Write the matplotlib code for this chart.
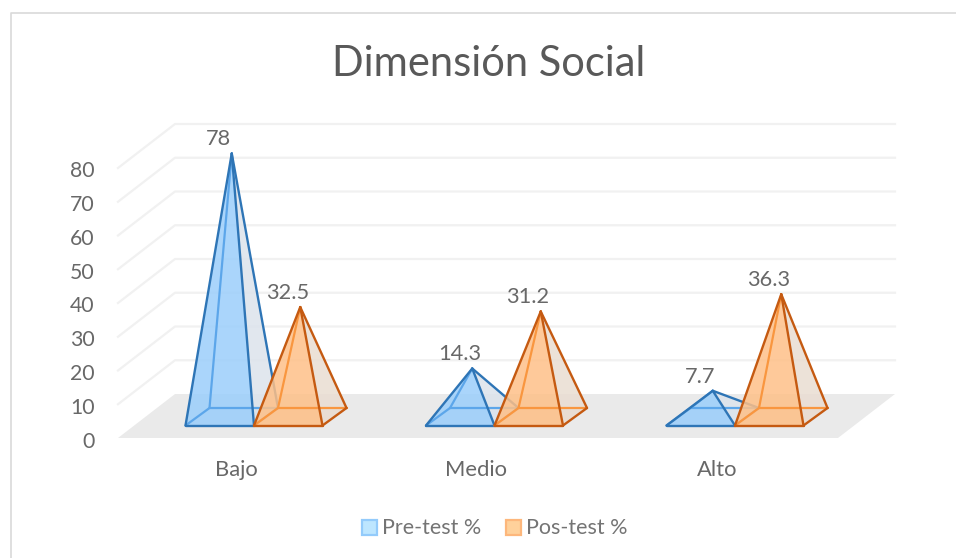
import matplotlib
matplotlib.use("Agg")
import matplotlib.pyplot as plt
from matplotlib.patches import Polygon, Rectangle

categories = ["Bajo", "Medio", "Alto"]
pre_test = [78, 14.3, 7.7]
pos_test = [32.5, 31.2, 36.3]
yticks = [0, 10, 20, 30, 40, 50, 60, 70, 80]
title = "Dimensión Social"
series_names = ["Pre-test %", "Pos-test %"]

W, H = 956, 558
GRAY = "#595959"
LABEL = "#686868"

# axes fill the figure, x in categories, y in percent
px_x = 240.5
px_y = 3.375
x0_px = 254
y0_px = 438

# fake 3d: box depth and pyramid size in data units
wall_dx = 57 / px_x
wall_dy = 44 / px_y
bar_w = 68.5 / px_x
bar_dx = 24 / px_x
bar_dy = 17.5 / px_y
base_y = 12.5 / px_y
left_x = -136 / px_x
right_x = 584 / px_x

plt.rcParams["font.family"] = ["Lato", "DejaVu Sans"]
fig = plt.figure(figsize=(W / 100, H / 100), dpi=100)
ax = fig.add_axes([0, 0, 1, 1])
ax.set_xlim(-x0_px / px_x, (W - x0_px) / px_x)
ax.set_ylim((y0_px - H) / px_y, y0_px / px_y)
ax.axis("off")


def to_x(px):
    return (px - x0_px) / px_x


def to_y(px):
    return (y0_px - px) / px_y


# outer frame, only top and left are in view
ax.plot([to_x(10.5), to_x(10.5), to_x(956)], [to_y(558), to_y(13.5), to_y(13.5)],
        color="#D9D9D9", lw=1.2, zorder=1)

# floor
ax.add_patch(Polygon([(left_x, 0), (right_x, 0), (right_x + wall_dx, wall_dy), (left_x + wall_dx, wall_dy)],
                     closed=True, fc="#EAEAEA", ec="none", zorder=1))

# gridlines on side and back wall
for t in yticks[1:]:
    ax.plot([left_x, left_x + wall_dx, right_x + wall_dx], [t, t + wall_dy, t + wall_dy],
            color="#F1F1F1", lw=1.6, zorder=1)

for t in yticks:
    ax.text(to_x(94.5), t - 3.5 / px_y, str(t), ha="right", va="center", fontsize=15.3, color=LABEL)


def pyramid(x, val, face, side, edge, inner, z):
    fl = (x, base_y)
    fr = (x + bar_w, base_y)
    br = (x + bar_w + bar_dx, base_y + bar_dy)
    bl = (x + bar_dx, base_y + bar_dy)
    top = (x + (bar_w + bar_dx) / 2, base_y + bar_dy / 2 + val)

    # back faces first, seen through the front
    ax.add_patch(Polygon([fr, br, top], closed=True, fc=side, ec="none", alpha=0.85, zorder=z))
    ax.add_patch(Polygon([fl, bl, br, fr], closed=True, fc=side, ec="none", alpha=0.6, zorder=z))
    ax.add_patch(Polygon([fl, fr, top], closed=True, fc=face, ec="none", alpha=0.85, zorder=z + 0.1))
    for a, b in [(fl, bl), (bl, br), (bl, top)]:
        ax.plot([a[0], b[0]], [a[1], b[1]], color=inner, lw=1.6, zorder=z + 0.2, solid_capstyle="round")
    for a, b in [(fl, fr), (fr, br), (fl, top), (fr, top), (br, top)]:
        ax.plot([a[0], b[0]], [a[1], b[1]], color=edge, lw=1.7, zorder=z + 0.3, solid_capstyle="round")

    ax.text(top[0] - 13 / px_x, top[1] + 1.2, str(val), ha="center", va="bottom", fontsize=15.7,
            color=LABEL, zorder=10)


for i, name in enumerate(categories):
    pyramid(i - bar_w, pre_test[i], "#9BCEFB", "#DCE3EC", "#2E75B6", "#5CA6EA", 3)
    pyramid(i, pos_test[i], "#FEC088", "#E9DDD2", "#C55A11", "#F9963F", 4)
    ax.text(i - 0.075, to_y(470.5), name, ha="center", va="center", fontsize=15.8, color=LABEL)

ax.text(to_x(489), to_y(64), title, ha="center", va="center", fontsize=30, color=GRAY)

# legend
legend_colors = [("#BDE6FF", "#93CBFB"), ("#FFD19B", "#FDB77C")]
legend_x = [362, 506]
for name, (fc, ec), lx in zip(series_names, legend_colors, legend_x):
    ax.add_patch(Rectangle((to_x(lx), to_y(535)), 15 / px_x, 15 / px_y, fc=fc, ec=ec, lw=1.6, zorder=5))
    ax.text(to_x(lx + 20), to_y(527.5), name, ha="left", va="center", fontsize=15.5, color="#747474")

fig.savefig("out.png", dpi=100)
